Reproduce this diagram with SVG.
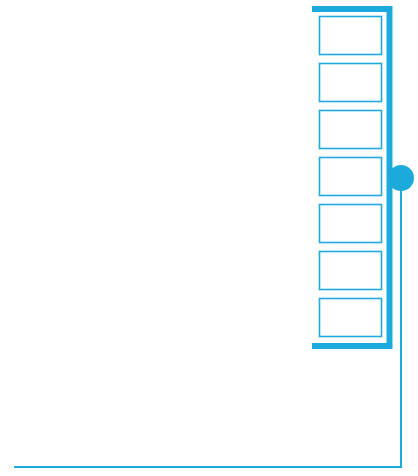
<svg xmlns="http://www.w3.org/2000/svg" width="418" height="476" viewBox="0 0 418 476">
<style>
.slot{fill:#fff;stroke:#1eaadc;stroke-width:1.6}
.bracket{fill:none;stroke:#1caadc;stroke-width:6;stroke-linejoin:miter}
.wire{fill:none;stroke:#1eaadc;stroke-width:2}
</style>
<rect width="418" height="476" fill="#fff"/>
<g id="bracket"><polyline class="bracket" points="312,9 389.5,9 389.5,346 312,346"/></g>
<g id="slot1"><rect class="slot" x="319.5" y="16.5" width="62" height="38"/></g>
<g id="slot2"><rect class="slot" x="319.5" y="63.5" width="62" height="38"/></g>
<g id="slot3"><rect class="slot" x="319.5" y="110.5" width="62" height="38"/></g>
<g id="slot4"><rect class="slot" x="319.5" y="157.5" width="62" height="38"/></g>
<g id="slot5"><rect class="slot" x="319.5" y="204.5" width="62" height="38"/></g>
<g id="slot6"><rect class="slot" x="319.5" y="251.5" width="62" height="38"/></g>
<g id="slot7"><rect class="slot" x="319.5" y="298.5" width="62" height="38"/></g>
<g id="connectors"><polyline class="wire" points="401,185 401,467 14,467"/></g>
<g id="port"><circle cx="401" cy="178" r="13" fill="#1caadc"/></g>
</svg>
